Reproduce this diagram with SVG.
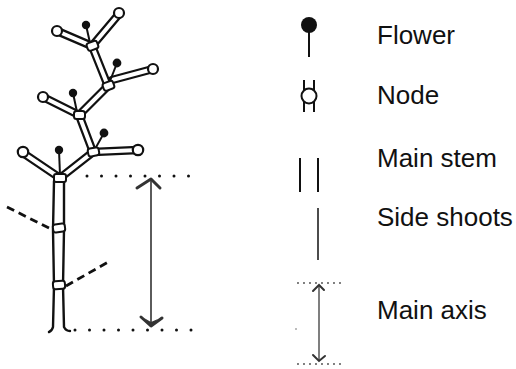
<svg xmlns="http://www.w3.org/2000/svg" width="516" height="369" viewBox="0 0 516 369">
<style>
.bg{fill:#fff}
.to{stroke:#111;stroke-width:8.5;stroke-linecap:round;fill:none}
.ti{stroke:#fff;stroke-width:4;stroke-linecap:round;fill:none}
.end{fill:#fff;stroke:#111;stroke-width:2.2}
.nd{fill:#fff;stroke:#111;stroke-width:2}
.fs{stroke:#111;stroke-width:2;fill:none}
.fd{fill:#111}
.ln{stroke:#111;stroke-width:2.4;fill:none;stroke-linecap:round}
.dash{stroke:#111;stroke-width:2.8;fill:none;stroke-dasharray:8 5}
.dot{stroke:#111;stroke-width:3;fill:none;stroke-linecap:round}
.arr{stroke:#333;stroke-width:1.6;fill:none}
.ah{stroke:#333;stroke-width:3;fill:none;stroke-linecap:round;stroke-linejoin:round}
.lbl{font-family:"Liberation Sans",Arial,sans-serif;font-size:26px;fill:#111}
</style>
<rect class="bg" x="0" y="0" width="516" height="369"/>
<g id="plant">
  <g id="shoots-outer">
    <path class="to" d="M92,46 L108,86 L79,115 L93,152 L60,178"/>
    <line class="to" x1="92" y1="46" x2="119" y2="14"/>
    <line class="to" x1="92" y1="46" x2="57" y2="31"/>
    <line class="to" x1="112" y1="80" x2="153" y2="69"/>
    <line class="to" x1="79" y1="115" x2="43" y2="97"/>
    <line class="to" x1="93" y1="152" x2="138" y2="150"/>
    <line class="to" x1="60" y1="178" x2="23" y2="153"/>
  </g>
  <g id="shoots-inner">
    <path class="ti" d="M92,46 L108,86 L79,115 L93,152 L60,178"/>
    <line class="ti" x1="92" y1="46" x2="119" y2="14"/>
    <line class="ti" x1="92" y1="46" x2="57" y2="31"/>
    <line class="ti" x1="112" y1="80" x2="153" y2="69"/>
    <line class="ti" x1="79" y1="115" x2="43" y2="97"/>
    <line class="ti" x1="93" y1="152" x2="138" y2="150"/>
    <line class="ti" x1="60" y1="178" x2="23" y2="153"/>
  </g>
  <g id="shoot-ends">
    <circle class="end" cx="119" cy="13" r="5"/>
    <circle class="end" cx="57" cy="31" r="5"/>
    <circle class="end" cx="153" cy="69" r="5"/>
    <circle class="end" cx="43" cy="97" r="5"/>
    <circle class="end" cx="138" cy="150" r="5.2"/>
    <circle class="end" cx="23" cy="152" r="5.2"/>
  </g>
  <g id="flowers">
    <line class="fs" x1="86" y1="25" x2="90" y2="43"/>
    <circle class="fd" cx="86" cy="25" r="4.2"/>
    <line class="fs" x1="117" y1="63" x2="110" y2="81"/>
    <circle class="fd" cx="117" cy="63" r="4.4"/>
    <line class="fs" x1="73" y1="93" x2="77" y2="112"/>
    <circle class="fd" cx="73" cy="93" r="4.2"/>
    <line class="fs" x1="104" y1="133" x2="95" y2="149"/>
    <circle class="fd" cx="104" cy="133" r="4.4"/>
    <line class="fs" x1="59" y1="150" x2="60" y2="175"/>
    <circle class="fd" cx="59" cy="150" r="4.2"/>
  </g>
  <g id="main-stem">
    <path class="ln" d="M54,181 L53,230 L54,286 L53,327 Q52,331 49,332"/>
    <path class="ln" d="M64,181 L64,230 L63,286 L64,327 Q66,331 70,331"/>
  </g>
  <g id="nodes">
    <rect class="nd" x="87" y="42" width="11" height="8" rx="2.5" transform="rotate(-20 92 46)"/>
    <rect class="nd" x="103" y="82" width="11" height="8" rx="2.5" transform="rotate(-20 108 86)"/>
    <rect class="nd" x="74" y="111" width="11" height="8" rx="2.5"/>
    <rect class="nd" x="88" y="148" width="11" height="8" rx="2.5" transform="rotate(-10 93 152)"/>
    <rect class="nd" x="54" y="174" width="12" height="8" rx="2"/>
    <rect class="nd" x="53" y="224" width="12" height="8" rx="2.5" transform="rotate(-8 59 228)"/>
    <rect class="nd" x="53" y="281" width="12" height="8" rx="2.5" transform="rotate(-5 59 285)"/>
  </g>
  <g id="removed-shoots">
    <line class="dash" x1="7" y1="207" x2="49" y2="228"/>
    <line class="dash" x1="66" y1="286" x2="110" y2="261"/>
  </g>
</g>
<g id="connectors">
  <line class="dot" x1="87" y1="176" x2="192" y2="176" stroke-dasharray="0 14.5"/>
  <line class="dot" x1="75" y1="330" x2="192" y2="330" stroke-dasharray="0 14.5"/>
  <line class="arr" x1="151" y1="180" x2="151" y2="324"/>
  <path class="ah" d="M137,188 L151,179 L160,188"/>
  <path class="ah" d="M141,317 L151,326 L162,318"/>
  <path d="M144,318 L151,326 L158,319 L151,322 Z" fill="#333"/>
</g>
<g id="legend-flower">
  <line class="fs" x1="309" y1="30" x2="309" y2="57"/>
  <circle class="fd" cx="309" cy="25" r="8"/>
  <text class="lbl" x="377" y="44">Flower</text>
</g>
<g id="legend-node">
  <line class="fs" x1="304" y1="80" x2="304" y2="90"/>
  <line class="fs" x1="314" y1="80" x2="314" y2="90"/>
  <line class="fs" x1="304" y1="102" x2="304" y2="112"/>
  <line class="fs" x1="314" y1="102" x2="314" y2="112"/>
  <circle cx="309" cy="96" r="7.5" fill="#fff" stroke="#111" stroke-width="2"/>
  <text class="lbl" x="377" y="104">Node</text>
</g>
<g id="legend-main-stem">
  <line class="fs" x1="300" y1="158" x2="300" y2="192"/>
  <line class="fs" x1="318" y1="158" x2="318" y2="192"/>
  <text class="lbl" x="377" y="167">Main stem</text>
</g>
<g id="legend-side-shoots">
  <line x1="318" y1="208" x2="318" y2="260" stroke="#111" stroke-width="1.5"/>
  <text class="lbl" x="377" y="226">Side shoots</text>
</g>
<g id="legend-main-axis">
  <line x1="298" y1="283" x2="344" y2="283" stroke="#444" stroke-width="1.8" stroke-linecap="round" stroke-dasharray="0 6"/>
  <line x1="298" y1="364" x2="344" y2="364" stroke="#444" stroke-width="1.8" stroke-linecap="round" stroke-dasharray="0 6"/>
  <circle cx="296" cy="329" r="0.8" fill="#666"/>
  <line x1="319" y1="286" x2="319" y2="360" stroke="#555" stroke-width="1.5"/>
  <path d="M313,291 L319,285 L324,290" stroke="#333" stroke-width="2" fill="none" stroke-linecap="round"/>
  <path d="M313,355 L319,361 L325,356" stroke="#333" stroke-width="2" fill="none" stroke-linecap="round"/>
  <text class="lbl" x="377" y="319">Main axis</text>
</g>
</svg>
